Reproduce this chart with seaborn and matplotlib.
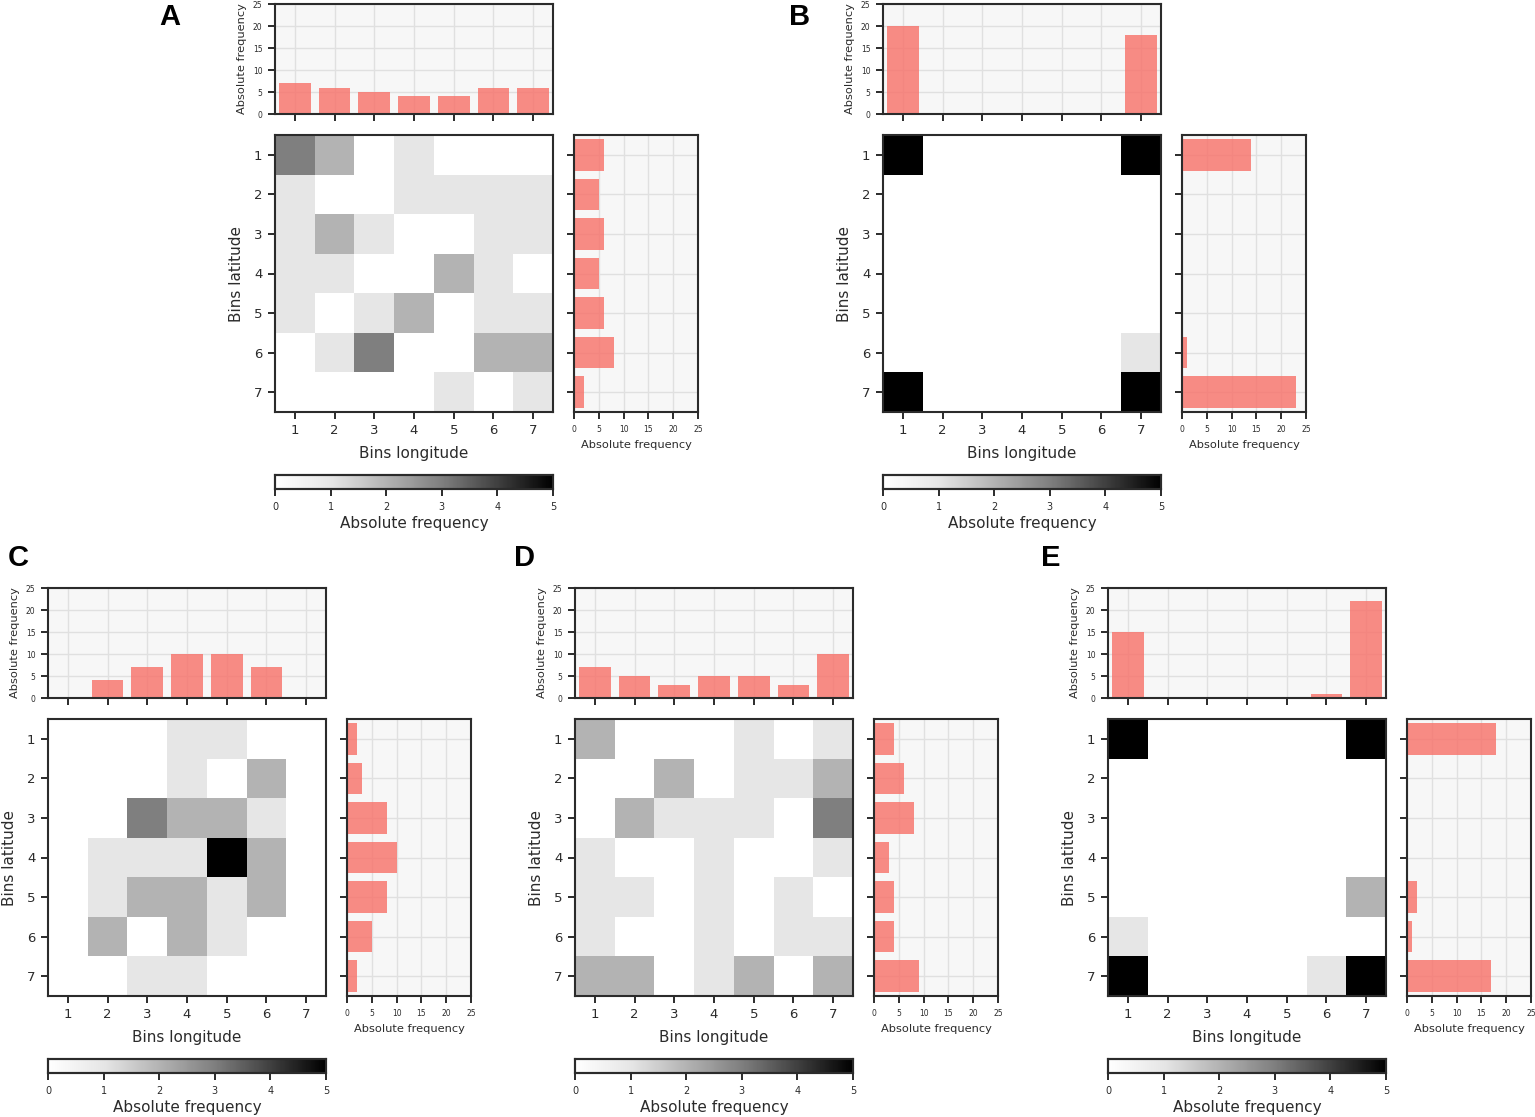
import numpy as np
import pandas as pd
import seaborn as sns
import matplotlib.pyplot as plt
from matplotlib.colors import LinearSegmentedColormap

W, H = 1535, 1117

bins = [1, 2, 3, 4, 5, 6, 7]

# counts per cell, rows = latitude bin, columns = longitude bin
grid_a = [[3, 2, 0, 1, 0, 0, 0],
          [1, 0, 0, 1, 1, 1, 1],
          [1, 2, 1, 0, 0, 1, 1],
          [1, 1, 0, 0, 2, 1, 0],
          [1, 0, 1, 2, 0, 1, 1],
          [0, 1, 3, 0, 0, 2, 2],
          [0, 0, 0, 0, 1, 0, 1]]
grid_b = [[7, 0, 0, 0, 0, 0, 7],
          [0, 0, 0, 0, 0, 0, 0],
          [0, 0, 0, 0, 0, 0, 0],
          [0, 0, 0, 0, 0, 0, 0],
          [0, 0, 0, 0, 0, 0, 0],
          [0, 0, 0, 0, 0, 0, 1],
          [13, 0, 0, 0, 0, 0, 10]]
grid_c = [[0, 0, 0, 1, 1, 0, 0],
          [0, 0, 0, 1, 0, 2, 0],
          [0, 0, 3, 2, 2, 1, 0],
          [0, 1, 1, 1, 5, 2, 0],
          [0, 1, 2, 2, 1, 2, 0],
          [0, 2, 0, 2, 1, 0, 0],
          [0, 0, 1, 1, 0, 0, 0]]
grid_d = [[2, 0, 0, 0, 1, 0, 1],
          [0, 0, 2, 0, 1, 1, 2],
          [0, 2, 1, 1, 1, 0, 3],
          [1, 0, 0, 1, 0, 0, 1],
          [1, 1, 0, 1, 0, 1, 0],
          [1, 0, 0, 1, 0, 1, 1],
          [2, 2, 0, 1, 2, 0, 2]]
grid_e = [[7, 0, 0, 0, 0, 0, 11],
          [0, 0, 0, 0, 0, 0, 0],
          [0, 0, 0, 0, 0, 0, 0],
          [0, 0, 0, 0, 0, 0, 0],
          [0, 0, 0, 0, 0, 0, 2],
          [1, 0, 0, 0, 0, 0, 0],
          [7, 0, 0, 0, 0, 1, 9]]

# panel letter, counts, left edge of heatmap, top edge of the top histogram, letter position
panels = [('A', grid_a, 275, 4, 159, 25),
          ('B', grid_b, 883, 4, 789, 25),
          ('C', grid_c, 48, 588, 8, 566),
          ('D', grid_d, 575, 588, 514, 566),
          ('E', grid_e, 1108, 588, 1041, 566)]

freq_ticks = [0, 5, 10, 15, 20, 25]
cbar_ticks = [0, 1, 2, 3, 4, 5]

ink = '#2b2b2b'
bar_color = '#f87068'
panel_bg = '#f7f7f7'
grid_color = '#e0e0e0'

counts_cmap = LinearSegmentedColormap.from_list(
    'counts', [(0, '#ffffff'), (0.2, '#e6e6e6'), (0.4, '#b3b3b3'),
               (0.6, '#7f7f7f'), (0.8, '#404040'), (1, '#000000')])

sns.set_theme(style='ticks')
plt.rcParams['font.family'] = ['DejaVu Sans']
plt.rcParams['axes.edgecolor'] = ink
plt.rcParams['text.color'] = ink
plt.rcParams['axes.labelcolor'] = ink
plt.rcParams['xtick.color'] = ink
plt.rcParams['ytick.color'] = ink


def box(x0, y0, x1, y1):
    # pixel box (y going down) to figure fractions
    return [x0 / W, 1 - y1 / H, (x1 - x0) / W, (y1 - y0) / H]


def frame(ax):
    ax.set_axisbelow(True)
    for s in ax.spines.values():
        s.set_visible(True)
        s.set_linewidth(1.5)
        s.set_color(ink)


def hist_style(ax):
    ax.set_facecolor(panel_bg)
    ax.grid(True, color=grid_color, linewidth=1.0)
    frame(ax)
    ax.tick_params(length=5, width=1.4, labelsize=5.5, pad=4)


fig = plt.figure(figsize=(W / 100, H / 100), dpi=100)

for letter, grid, x0, y0, lx, ly in panels:
    counts = np.array(grid)
    hm_top = y0 + 131
    hm_bottom = y0 + 408
    x1 = x0 + 278

    # heatmap
    ax = fig.add_axes(box(x0, hm_top, x1, hm_bottom))
    cax = fig.add_axes(box(x0, y0 + 471, x1, y0 + 485))
    frame_df = pd.DataFrame(counts, index=bins, columns=bins)
    sns.heatmap(frame_df, ax=ax, cmap=counts_cmap, vmin=0, vmax=5, cbar_ax=cax,
                cbar_kws={'orientation': 'horizontal', 'ticks': cbar_ticks})
    frame(ax)
    ax.tick_params(length=5, width=1.4, labelsize=9.5, pad=4, rotation=0)
    for t in ax.get_yticklabels():
        t.set_va('center_baseline')
    ax.set_xlabel('Bins longitude', fontsize=11, labelpad=6)
    ax.set_ylabel('Bins latitude', fontsize=11, labelpad=7)

    # colorbar
    frame(cax)
    cax.tick_params(length=5, width=1.4, labelsize=7, pad=4)
    cax.set_xlabel('Absolute frequency', fontsize=11, labelpad=3)

    # histogram along the top
    top = fig.add_axes(box(x0, y0, x1, y0 + 110))
    sns.barplot(x=bins, y=counts.sum(axis=0), native_scale=True, width=0.8,
                color=bar_color, saturation=1, alpha=0.8, linewidth=0, ax=top)
    top.set_xlim(0.5, 7.5)
    top.set_ylim(0, 25)
    top.set_xticks(bins)
    top.set_xticklabels([])
    top.set_yticks(freq_ticks)
    top.set_ylabel('Absolute frequency', fontsize=8.2, labelpad=4)
    hist_style(top)

    # histogram along the right
    right = fig.add_axes(box(x1 + 21, hm_top, x1 + 145, hm_bottom))
    sns.barplot(x=counts.sum(axis=1), y=bins, orient='y', native_scale=True, width=0.8,
                color=bar_color, saturation=1, alpha=0.8, linewidth=0, ax=right)
    right.set_ylim(7.5, 0.5)
    right.set_xlim(0, 25)
    right.set_yticks(bins)
    right.set_yticklabels([])
    right.set_xticks(freq_ticks)
    right.set_xlabel('Absolute frequency', fontsize=8.2, labelpad=4.5)
    hist_style(right)

    fig.text(lx / W, 1 - ly / H, letter, fontsize=21, fontweight='bold', color='black',
             family='Liberation Sans', va='baseline', ha='left')

fig.savefig('out.png', dpi=100)
